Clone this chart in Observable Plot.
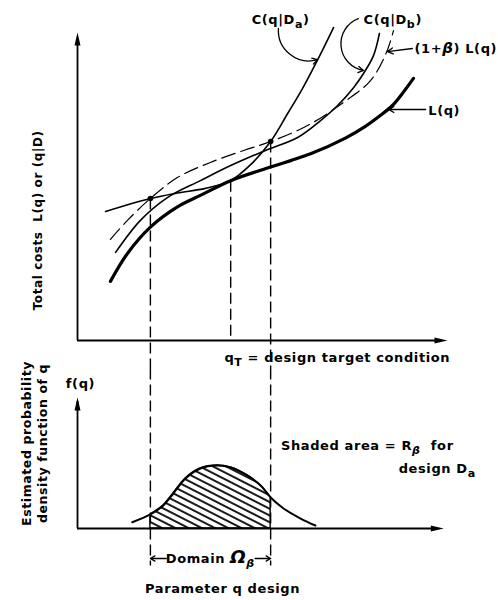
<!DOCTYPE html>
<html><head><meta charset="utf-8">
<script src="https://cdn.jsdelivr.net/npm/d3@7"></script>
<script src="https://cdn.jsdelivr.net/npm/@observablehq/plot@0.6"></script>
<style>
html,body{margin:0;padding:0;background:#fff;}
#chart{width:498px;height:600px;line-height:0;}
#chart svg{display:block;overflow:visible;}
</style></head><body><div id="chart"></div>
<script>
// Design parameter q (arbitrary units 0..100) and cost / density values
const lossQ = [8.9, 13.4, 19.7, 26.9, 33.2, 41.4, 52.2, 57.6, 63.0, 72.4, 77.8, 81.9, 85.1, 87.8, 90.8];
const lossC = [19.2, 28.1, 36.8, 43.3, 47.1, 51.9, 56.3, 58.4, 60.6, 65.7, 69.5, 73.1, 76.3, 80.2, 85.1];
const costAQ = [7.6, 19.7, 27.0, 34.6, 41.4, 46.8, 52.2, 56.8, 60.8, 65.1, 69.2];
const costAC = [41.9, 46.1, 47.9, 49.4, 51.9, 57.1, 64.6, 73.7, 81.8, 91.6, 101.6];
const costBQ = [10.3, 17.0, 24.3, 33.2, 41.4, 50.8, 59.5, 65.7, 70.3, 74.6, 77.3, 80.0, 81.6];
const costBC = [28.6, 39.0, 46.4, 51.9, 56.8, 61.7, 65.9, 71.4, 76.3, 82.1, 86.7, 92.5, 99.7];
const tolQ = [8.9, 13.5, 19.7, 27.0, 35.9, 44.9, 52.2, 62.2, 71.9, 79.2, 83.5, 85.4];
const tolC = [32.8, 39.0, 46.1, 52.9, 57.8, 61.7, 64.6, 69.8, 77.3, 84.4, 93.5, 100.6];
const densQ = [14.8, 19.7, 23.2, 25.9, 29.2, 33.2, 37.8, 41.4, 45.9, 49.5, 52.2, 55.7, 60.3, 64.3];
const densF = [4.8, 10.7, 17.6, 26.7, 38.2, 45.8, 48.1, 46.6, 40.5, 32.8, 23.7, 15.3, 7.6, 2.3];
const qA = 19.7, qT = 41.4, qB = 52.2;
const cA = 46.1, cT = 51.9, cB = 64.6;

const topLabels = [
  {x: 54.9, y: 104.2, t: "C(q|D_{a})", a: "middle"},
  {x: 85.2, y: 104.2, t: "C(q|D_{b})", a: "middle"},
  {x: 91.1, y: 94.8, t: "(1+β) L(q)", a: "start"},
  {x: 94.8, y: 74.7, t: "L(q)", a: "start"},
  {x: 39.7, y: -5.5, t: "q_{T} = design target condition", a: "start"}
];
const bottomLabels = [
  {x: 0.8, y: 110.7, t: "f(q)", a: "middle"},
  {x: 55.0, y: 63.4, t: "Shaded area = R_{β}  for", a: "start"},
  {x: 86.8, y: 45.8, t: "design D_{a}", a: "start"},
  {x: 35.9, y: -22.9, t: "Domain Ω_{β}", a: "middle"},
  {x: 39.2, y: -45.8, t: "Parameter q design", a: "middle"}
];

const toPts = (xs, ys) => xs.map((x, i) => ({x, y: ys[i]}));
const loss = toPts(lossQ, lossC), costA = toPts(costAQ, costAC), costB = toPts(costBQ, costBC);
const tol = toPts(tolQ, tolC), dens = toPts(densQ, densF);

const arrowHead = {draw(ctx) { ctx.moveTo(0, 0); ctx.lineTo(-3, 13); ctx.lineTo(3, 13); ctx.closePath(); }};
const font = "'DejaVu Sans', 'Liberation Sans', sans-serif";
const style = {fontFamily: font, fontWeight: "bold", fontSize: "13px", letterSpacing: "0.6px", background: "white", overflow: "visible"};
const txt = {fontSize: 13, fontWeight: "bold", fill: "black", fontFamily: font};
const crv = "catmull-rom";
const lead = {stroke: "black", strokeWidth: 1.3, headLength: 7, inset: 0};

const topPlot = Plot.plot({
  width: 498, height: 368,
  x: {domain: [0, 100], range: [77, 447], axis: null},
  y: {domain: [0, 100], range: [340, 32], axis: null},
  style,
  marks: [
    Plot.ruleX([0], {y1: 0, y2: 97, stroke: "black", strokeWidth: 1.8}),
    Plot.ruleY([0], {x1: 0, x2: 97, stroke: "black", strokeWidth: 1.8}),
    Plot.dot([{x: 0, y: 100}], {x: "x", y: "y", symbol: arrowHead, rotate: 0, fill: "black", stroke: null}),
    Plot.dot([{x: 100, y: 0}], {x: "x", y: "y", symbol: arrowHead, rotate: 90, fill: "black", stroke: null}),
    Plot.link([{x: qA, a: cA, b: -9.2}, {x: qT, a: cT, b: 0}, {x: qB, a: cB, b: -9.2}],
      {x1: "x", x2: "x", y1: "a", y2: "b", stroke: "black", strokeWidth: 1.4, strokeDasharray: "11,5"}),
    Plot.line(tol, {x: "x", y: "y", curve: crv, stroke: "black", strokeWidth: 1.2, strokeDasharray: "14,6"}),
    Plot.line(costB, {x: "x", y: "y", curve: crv, stroke: "black", strokeWidth: 1.6}),
    Plot.line(costA, {x: "x", y: "y", curve: crv, stroke: "black", strokeWidth: 1.6}),
    Plot.line(loss, {x: "x", y: "y", curve: crv, stroke: "black", strokeWidth: 3.2}),
    Plot.dot([{x: qA, y: cA}, {x: qB, y: cB}], {x: "x", y: "y", r: 2.8, fill: "black", stroke: null}),
    Plot.arrow([{x1: 54.3, y1: 101.3, x2: 64.9, y2: 91.2}], {x1: "x1", y1: "y1", x2: "x2", y2: "y2", bend: -55, ...lead}),
    Plot.arrow([{x1: 75.9, y1: 104.5, x2: 77.3, y2: 87.7}], {x1: "x1", y1: "y1", x2: "x2", y2: "y2", bend: -75, ...lead}),
    Plot.arrow([{x1: 90.5, y1: 94.8, x2: 83.8, y2: 93.8}, {x1: 94.1, y1: 75.0, x2: 84.1, y2: 75.0}],
      {x1: "x1", y1: "y1", x2: "x2", y2: "y2", ...lead}),
    Plot.text(topLabels, {filter: d => d.a === "middle", x: "x", y: "y", text: "t", textAnchor: "middle", ...txt}),
    Plot.text(topLabels, {filter: d => d.a === "start", x: "x", y: "y", text: "t", textAnchor: "start", ...txt}),
    Plot.text(["Total costs  L(q) or (q|D)"], {x: -10.5, y: 39, rotate: -90, ...txt, fontSize: 12, letterSpacing: "0.2px"})
  ]
});

const bottomPlot = Plot.plot({
  width: 498, height: 232,
  x: {domain: [0, 100], range: [77, 447], axis: null},
  y: {domain: [0, 100], range: [160, 29], axis: null},
  style,
  marks: [
    Plot.areaY(dens, {x: "x", y: "y", filter: d => d.x >= qA && d.x <= qB, curve: crv, fill: "url(#hatch)", stroke: "black", strokeWidth: 1.4}),
    Plot.ruleX([0], {y1: 0, y2: 97, stroke: "black", strokeWidth: 1.8}),
    Plot.ruleY([0], {x1: 0, x2: 96, stroke: "black", strokeWidth: 1.8}),
    Plot.dot([{x: 0, y: 100}], {x: "x", y: "y", symbol: arrowHead, rotate: 0, fill: "black", stroke: null}),
    Plot.dot([{x: 99, y: 0}], {x: "x", y: "y", symbol: arrowHead, rotate: 90, fill: "black", stroke: null}),
    Plot.link([{x: qA, a: 122.2, b: -28.2}, {x: qB, a: 122.2, b: -28.2}],
      {x1: "x", x2: "x", y1: "a", y2: "b", stroke: "black", strokeWidth: 1.4, strokeDasharray: "11,5"}),
    Plot.line(dens, {x: "x", y: "y", curve: crv, stroke: "black", strokeWidth: 2}),
    Plot.arrow([{x1: 24.0, x2: qA}, {x1: 48.0, x2: qB}], {x1: "x1", x2: "x2", y1: -22.9, y2: -22.9, stroke: "black", strokeWidth: 1.3, headLength: 6, inset: 0}),
    Plot.text(bottomLabels, {filter: d => d.a === "middle", x: "x", y: "y", text: "t", textAnchor: "middle", ...txt}),
    Plot.text(bottomLabels, {filter: d => d.a === "start", x: "x", y: "y", text: "t", textAnchor: "start", ...txt}),
    Plot.text(["Estimated probability\ndensity function of q"], {x: -11.9, y: 64.9, rotate: -90, lineHeight: 1.3, ...txt, fontSize: 12.5})
  ]
});

// hatch pattern for the shaded area
d3.select(bottomPlot).insert("defs", ":first-child").html(
  '<pattern id="hatch" patternUnits="userSpaceOnUse" width="8" height="6" patternTransform="rotate(27)">' +
  '<line x1="-1" y1="3" x2="9" y2="3" stroke="black" stroke-width="1.8"/></pattern>');

function rich(svg) {
  d3.select(svg).selectAll("text").each(function() {
    const s = this.textContent;
    if (this.querySelector("tspan") || !/_\{|[βΩ]/.test(s)) return;
    const parts = s.split(/(_\{[^}]*\}|[βΩ])/).filter(p => p);
    const el = d3.select(this); el.text(null);
    for (const p of parts) {
      if (p.startsWith("_{")) {
        const inner = p.slice(2, -1);
        el.append("tspan").attr("baseline-shift", "-35%").attr("font-size", "85%")
          .attr("font-style", /[βΩ]/.test(inner) ? "italic" : null).text(inner);
      } else if (p === "β" || p === "Ω") {
        el.append("tspan").attr("font-style", "italic").attr("font-size", p === "Ω" ? "140%" : "115%").text(p);
      } else el.append("tspan").text(p);
    }
  });
}
rich(topPlot); rich(bottomPlot);

document.getElementById("chart").append(topPlot, bottomPlot);
</script></body></html>
